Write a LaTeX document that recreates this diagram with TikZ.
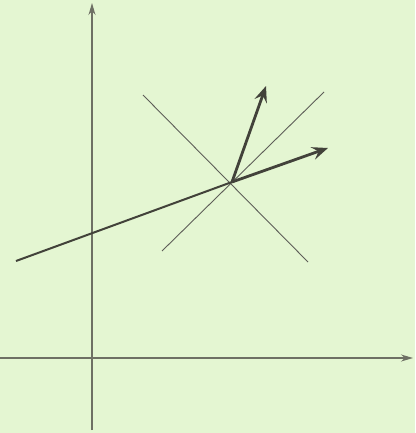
\documentclass[tikz,border=0pt]{standalone}
\usetikzlibrary{arrows.meta}
\definecolor{bg}{RGB}{228,246,210}
\definecolor{ink}{RGB}{66,66,58}
\definecolor{axisink}{RGB}{110,112,100}
\begin{document}
\begin{tikzpicture}[x=1pt,y=-1pt,
  axisline/.style={draw=axisink,line width=1.3pt,-{Stealth[length=12pt,width=7pt]}},
  thinline/.style={draw=ink!85,line width=0.9pt},
  vecline/.style={draw=ink,line width=2.8pt,-{Stealth[length=16pt,width=13pt,inset=6pt]}},
  baseline/.style={draw=ink,line width=2pt}]
\fill[bg] (0,0) rectangle (415,433);
\useasboundingbox (0,0) rectangle (415,433);
\coordinate (ybot) at (92,430);
\coordinate (ytop) at (92,3);
\coordinate (xl) at (0,358);
\coordinate (xr) at (413,358);
\coordinate (o) at (232,182);
\coordinate (a1) at (143,95);
\coordinate (a2) at (308,262);
\coordinate (b1) at (162,251);
\coordinate (b2) at (324,92);
\coordinate (l) at (16,261);
\coordinate (u) at (266,86);
\coordinate (r) at (328,148);
\draw[axisline] (ybot) -- (ytop);
\draw[axisline] (xl) -- (xr);
\draw[thinline] (a1) -- (a2);
\draw[thinline] (b1) -- (b2);
\draw[baseline] (l) -- (o);
\draw[vecline] (o) -- (u);
\draw[vecline] (o) -- (r);
\end{tikzpicture}
\end{document}
